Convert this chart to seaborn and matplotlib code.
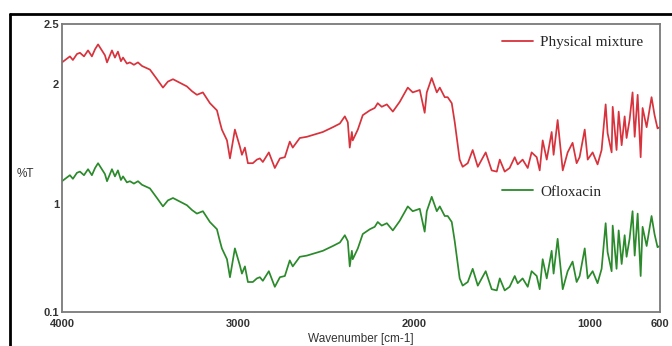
import numpy as np
import pandas as pd
import matplotlib
matplotlib.use('Agg')
import matplotlib.pyplot as plt
from matplotlib.lines import Line2D
import seaborn as sns

# Spectrum values
wavenumber = [4000, 3955, 3938, 3915, 3898, 3875, 3852, 3830, 3812, 3795,
              3773, 3756, 3744, 3727, 3716, 3699, 3682, 3665, 3653, 3631,
              3614, 3591, 3568, 3545, 3500, 3460, 3426, 3398, 3369, 3330,
              3290, 3261, 3233, 3199, 3159, 3119, 3102, 3091, 3062, 3045,
              3017, 2989, 2977, 2960, 2943, 2915, 2892, 2875, 2858, 2824,
              2790, 2761, 2733, 2705, 2688, 2648, 2608, 2562, 2517, 2460,
              2420, 2392, 2375, 2364, 2352, 2347, 2318, 2290, 2250, 2222,
              2205, 2182, 2153, 2119, 2080, 2034, 2006, 1966, 1938, 1926,
              1898, 1869, 1852, 1824, 1807, 1784, 1767, 1739, 1722, 1693,
              1665, 1636, 1591, 1557, 1528, 1511, 1483, 1455, 1426, 1409,
              1381, 1352, 1330, 1301, 1284, 1267, 1244, 1216, 1205, 1182,
              1153, 1125, 1097, 1074, 1057, 1028, 1011, 983, 955, 932,
              909, 898, 875, 869, 847, 835, 818, 801, 790, 773,
              756, 744, 727, 710, 699, 676, 648, 631, 614, 602]

physical_mixture = [2.18, 2.23, 2.20, 2.25, 2.26, 2.23, 2.28, 2.23, 2.29, 2.33,
                    2.28, 2.24, 2.18, 2.24, 2.28, 2.22, 2.27, 2.19, 2.22, 2.17,
                    2.18, 2.16, 2.18, 2.15, 2.12, 2.04, 1.97, 2.02, 2.04, 2.01,
                    1.98, 1.94, 1.91, 1.93, 1.84, 1.78, 1.68, 1.62, 1.53, 1.38,
                    1.62, 1.48, 1.41, 1.47, 1.34, 1.34, 1.37, 1.38, 1.35, 1.43,
                    1.30, 1.38, 1.39, 1.52, 1.47, 1.55, 1.56, 1.58, 1.60, 1.64,
                    1.67, 1.73, 1.68, 1.47, 1.60, 1.53, 1.62, 1.74, 1.78, 1.80,
                    1.84, 1.81, 1.83, 1.77, 1.85, 1.97, 1.93, 1.95, 1.76, 1.93,
                    2.05, 1.93, 1.97, 1.89, 1.89, 1.84, 1.68, 1.37, 1.31, 1.34,
                    1.45, 1.31, 1.43, 1.28, 1.27, 1.37, 1.27, 1.30, 1.39, 1.33,
                    1.37, 1.30, 1.43, 1.39, 1.28, 1.53, 1.37, 1.60, 1.41, 1.70,
                    1.28, 1.43, 1.51, 1.34, 1.39, 1.62, 1.37, 1.43, 1.33, 1.45,
                    1.83, 1.59, 1.43, 1.81, 1.45, 1.77, 1.49, 1.73, 1.55, 1.70,
                    1.93, 1.56, 1.91, 1.39, 1.80, 1.64, 1.89, 1.74, 1.63, 1.64]

ofloxacin = [1.19, 1.24, 1.21, 1.26, 1.27, 1.24, 1.29, 1.24, 1.30, 1.34,
             1.29, 1.25, 1.19, 1.25, 1.29, 1.23, 1.28, 1.20, 1.23, 1.18,
             1.19, 1.17, 1.19, 1.16, 1.13, 1.05, 0.98, 1.03, 1.05, 1.02,
             0.99, 0.95, 0.92, 0.94, 0.85, 0.79, 0.69, 0.63, 0.54, 0.39,
             0.63, 0.49, 0.42, 0.48, 0.35, 0.35, 0.38, 0.39, 0.36, 0.44,
             0.31, 0.39, 0.40, 0.53, 0.48, 0.56, 0.57, 0.59, 0.61, 0.65,
             0.68, 0.74, 0.69, 0.48, 0.61, 0.54, 0.63, 0.75, 0.79, 0.81,
             0.85, 0.82, 0.84, 0.78, 0.86, 0.98, 0.94, 0.96, 0.77, 0.94,
             1.06, 0.94, 0.98, 0.90, 0.90, 0.85, 0.69, 0.38, 0.32, 0.35,
             0.46, 0.32, 0.44, 0.29, 0.28, 0.38, 0.28, 0.31, 0.40, 0.34,
             0.38, 0.31, 0.44, 0.40, 0.29, 0.54, 0.38, 0.61, 0.42, 0.71,
             0.29, 0.44, 0.52, 0.35, 0.40, 0.63, 0.38, 0.44, 0.34, 0.46,
             0.84, 0.60, 0.44, 0.82, 0.46, 0.78, 0.50, 0.74, 0.56, 0.71,
             0.94, 0.57, 0.92, 0.40, 0.81, 0.65, 0.90, 0.75, 0.64, 0.65]

y_ticks = [0.1, 0.5, 1, 1.5, 2, 2.5]
y_tick_labels = ['0.1', '', '1', '', '2', '2.5']
x_ticks = [4000, 3500, 3000, 2500, 2000, 1500, 1000, 600]
x_tick_labels = ['4000', '', '3000', '', '2000', '', '1000', '600']

RED = '#d8323c'
GREEN = '#2b8a2b'
AXIS_GREY = '#7a7a7a'

sns.set_style('white')
plt.rcParams['font.family'] = ['Liberation Sans', 'DejaVu Sans']

df = pd.DataFrame({'wn': wavenumber, 'pm': physical_mixture, 'of': ofloxacin})

fig = plt.figure(figsize=(6.72, 3.46), dpi=100)
ax = fig.add_axes([62 / 672, 34 / 346, 598 / 672, 288 / 346])

sns.lineplot(data=df, x='wn', y='pm', color=RED, lw=1.25, ax=ax, sort=False)
sns.lineplot(data=df, x='wn', y='of', color=GREEN, lw=1.25, ax=ax, sort=False)

ax.set_xlim(4000, 600)
ax.set_ylim(0.1, 2.5)
ax.set_xticks(x_ticks)
ax.set_xticklabels(x_tick_labels)
ax.set_yticks(y_ticks)
ax.set_yticklabels(y_tick_labels)
ax.tick_params(direction='in', length=5, width=1, color=AXIS_GREY,
               labelsize=8, pad=2)
ax.tick_params(axis='x', pad=5)
for lab in ax.get_xticklabels() + ax.get_yticklabels():
    lab.set_fontweight('bold')
    lab.set_color('#333333')
for sp in ax.spines.values():
    sp.set_color(AXIS_GREY)
    sp.set_linewidth(1.3)

ax.set_xlabel('Wavenumber [cm-1]', fontsize=8.5, color='#333333', labelpad=3)
ax.set_ylabel('%T', fontsize=8.5, color='#333333', rotation=0)
ax.yaxis.set_label_coords(-0.062, 0.46)

# legend entries placed as in the reference
serif = ['Liberation Serif', 'DejaVu Serif']
leg_kw = dict(frameon=False, prop={'family': serif, 'size': 11},
              handlelength=2.0, handletextpad=0.5, borderpad=0,
              borderaxespad=0, loc='center left')
leg1 = ax.legend(handles=[Line2D([], [], color=RED, lw=1.3)],
                 labels=['Physical mixture'],
                 bbox_to_anchor=(0.736, 0.9375), **leg_kw)
ax.add_artist(leg1)
ax.legend(handles=[Line2D([], [], color=GREEN, lw=1.3)],
          labels=['Ofloxacin'],
          bbox_to_anchor=(0.736, 0.4167), **leg_kw)

# outer black frame (top and left)
fig.add_artist(Line2D([10 / 672, 1.0], [1 - 14 / 346, 1 - 14 / 346],
                      color='black', lw=2, transform=fig.transFigure))
fig.add_artist(Line2D([10 / 672, 10 / 672], [0, 1 - 14 / 346],
                      color='black', lw=2, transform=fig.transFigure))

fig.savefig('out.png', dpi=100)
